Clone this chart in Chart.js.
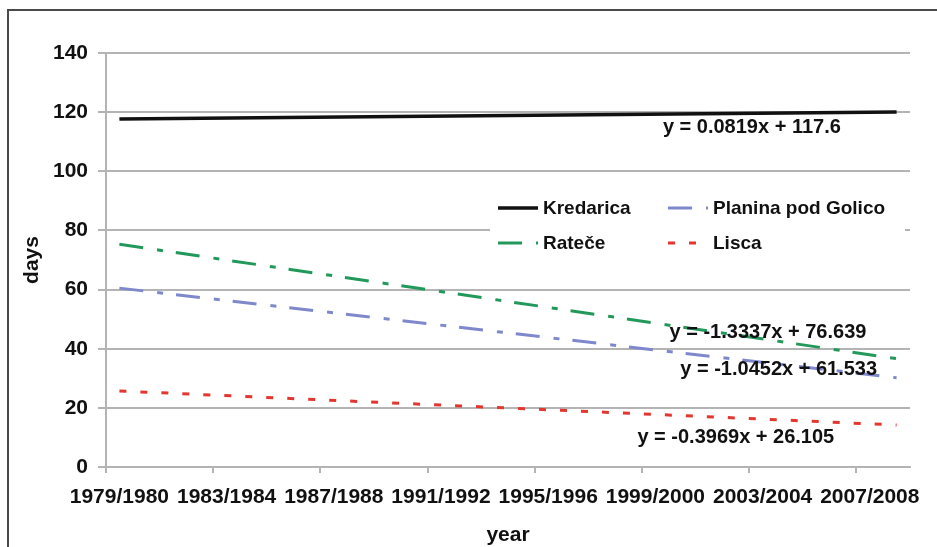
<!DOCTYPE html>
<html>
<head>
<meta charset="utf-8">
<script src="https://cdn.jsdelivr.net/npm/chart.js@4.4.1/dist/chart.umd.min.js"></script>
<style>
  html, body { margin: 0; padding: 0; background: #fff; }
  #wrap { width: 937px; height: 547px; position: relative; }
</style>
</head>
<body>
<div id="wrap"><canvas id="snowChart" width="937" height="547"></canvas></div>
<script>
// winter seasons 1979/1980 .. 2008/2009
const seasons = [];
for (let y = 1979; y <= 2008; y++) seasons.push(y + '/' + (y + 1));

// linear trend values at the first and last season (days)
const kredaricaEnds = [117.68, 120.06];
const rateceEnds = [75.31, 36.63];
const planinaEnds = [60.49, 30.18];
const liscaEnds = [25.71, 14.20];

const trendLabels = [
  { text: 'y = 0.0819x + 117.6', idx: 23.6, val: 114.9 },
  { text: 'y = -1.3337x + 76.639', idx: 24.2, val: 45.6 },
  { text: 'y = -1.0452x + 61.533', idx: 24.6, val: 33.1 },
  { text: 'y = -0.3969x + 26.105', idx: 23.0, val: 10.1 }
];

const yTicks = [0, 20, 40, 60, 80, 100, 120, 140];

const GRID = '#b4b4b4';
const TEXT = '#111111';
const FAMILY = '"Liberation Sans", Arial, sans-serif';

function trend(ends) {
  const arr = seasons.map(() => null);
  arr[0] = ends[0];
  arr[arr.length - 1] = ends[1];
  return arr;
}

function series(label, ends, color, dash, width) {
  return {
    label: label,
    data: trend(ends),
    borderColor: color,
    borderWidth: width,
    borderDash: dash,
    borderCapStyle: 'butt',
    pointRadius: 0,
    spanGaps: true,
    fill: false
  };
}

const datasets = [
  series('Kredarica', kredaricaEnds, '#111111', [], 3.5),
  series('Planina pod Golico', planinaEnds, '#7f88cc', [24, 14, 6, 13], 3),
  series('Rateče', rateceEnds, '#22985a', [24, 14, 6, 13], 3),
  series('Lisca', liscaEnds, '#e3362f', [7, 14], 3)
];

// frame, axis titles, trend equations and the in-plot legend
const decorations = {
  id: 'decorations',
  beforeDraw(chart) {
    const ctx = chart.ctx;
    ctx.save();
    ctx.strokeStyle = '#4a4a4a';
    ctx.lineWidth = 2;
    ctx.beginPath();
    ctx.moveTo(8, 547);
    ctx.lineTo(8, 10);
    ctx.lineTo(937, 10);
    ctx.stroke();
    ctx.restore();
  },
  afterDatasetsDraw(chart) {
    const ctx = chart.ctx;
    const xs = chart.scales.x, ys = chart.scales.y;
    const area = chart.chartArea;
    ctx.save();
    ctx.fillStyle = TEXT;
    ctx.font = 'bold 21px ' + FAMILY;
    ctx.textAlign = 'center';
    ctx.textBaseline = 'middle';

    // axis titles
    ctx.fillText('year', (area.left + area.right) / 2, 535);
    ctx.save();
    ctx.translate(32, 260);
    ctx.rotate(-Math.PI / 2);
    ctx.fillText('days', 0, 0);
    ctx.restore();

    // trend equations
    ctx.font = 'bold 20px ' + FAMILY;
    trendLabels.forEach(t => {
      ctx.fillText(t.text, xs.getPixelForValue(t.idx), ys.getPixelForValue(t.val));
    });

    // legend box
    ctx.fillStyle = '#fff';
    ctx.fillRect(490, 190, 415, 72);
    const rows = [
      { ds: 0, x: 498, y: 208 }, { ds: 1, x: 668, y: 208 },
      { ds: 2, x: 498, y: 243 }, { ds: 3, x: 668, y: 243 }
    ];
    ctx.font = 'bold 19px ' + FAMILY;
    ctx.textAlign = 'left';
    rows.forEach(r => {
      const d = datasets[r.ds];
      ctx.strokeStyle = d.borderColor;
      ctx.lineWidth = d.borderWidth;
      ctx.setLineDash(d.borderDash);
      ctx.beginPath();
      ctx.moveTo(r.x, r.y);
      ctx.lineTo(r.x + 40, r.y);
      ctx.stroke();
      ctx.setLineDash([]);
      ctx.fillStyle = TEXT;
      ctx.fillText(d.label, r.x + 45, r.y + 1);
    });
    ctx.restore();
  }
};

new Chart(document.getElementById('snowChart'), {
  type: 'line',
  data: { labels: seasons, datasets: datasets },
  plugins: [decorations],
  options: {
    responsive: false,
    animation: false,
    layout: { padding: { top: 53, right: 27, left: 0, bottom: 0 } },
    plugins: { legend: { display: false }, tooltip: { enabled: false } },
    scales: {
      x: {
        offset: true,
        grid: {
          offset: true,
          drawOnChartArea: false,
          drawTicks: true,
          tickLength: 6,
          lineWidth: 2,
          color: c => (c.index % 4 === 0 && c.index < seasons.length) ? GRID : 'rgba(0,0,0,0)'
        },
        border: { color: GRID, width: 2 },
        ticks: {
          autoSkip: false,
          maxRotation: 0,
          minRotation: 0,
          padding: 12,
          color: TEXT,
          font: { family: FAMILY, size: 21, weight: 'bold' },
          callback: (v, i) => i % 4 === 0 ? seasons[i] : ''
        },
        afterFit: s => { s.height = 80; }
      },
      y: {
        min: 0,
        max: 140,
        afterBuildTicks: s => { s.ticks = yTicks.map(v => ({ value: v })); },
        grid: { color: GRID, lineWidth: 2, tickLength: 8 },
        border: { color: GRID, width: 2 },
        ticks: {
          padding: 10,
          color: TEXT,
          font: { family: FAMILY, size: 21, weight: 'bold' }
        },
        afterFit: s => { s.width = 106; }
      }
    }
  }
});
</script>
</body>
</html>
